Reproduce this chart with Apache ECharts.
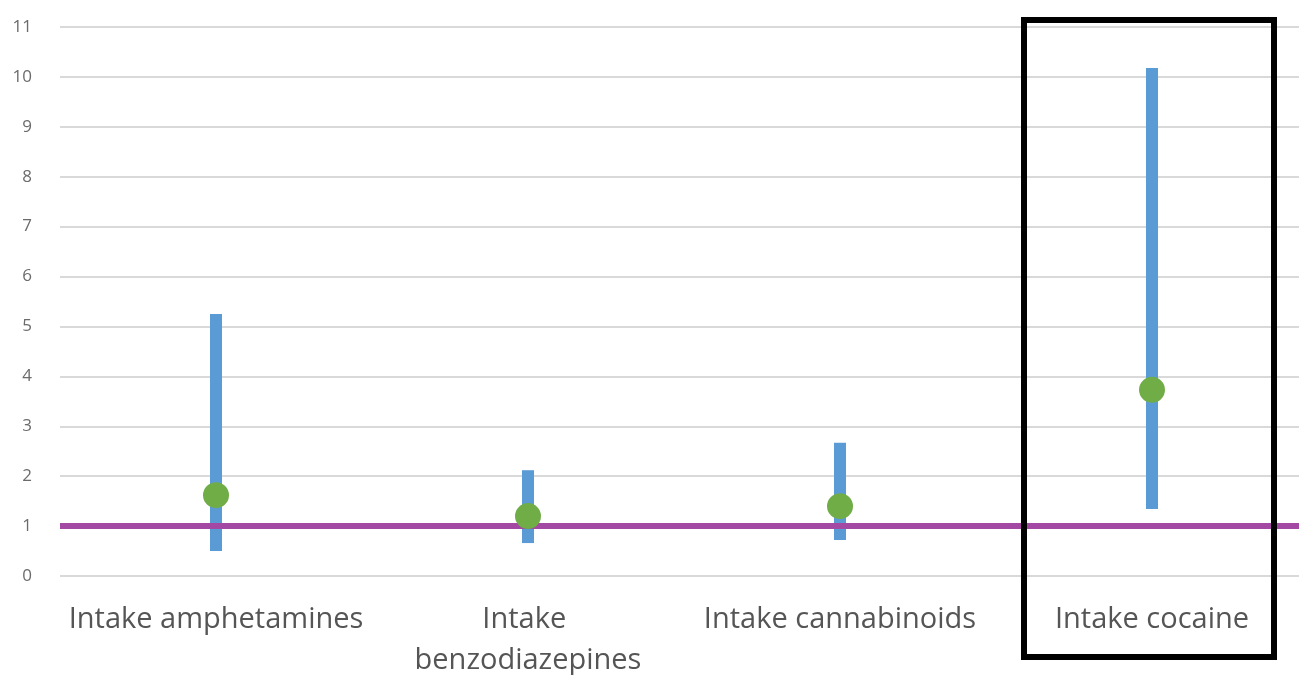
<!DOCTYPE html>
<html>
<head>
<meta charset="utf-8">
<script src="https://cdn.jsdelivr.net/npm/echarts@6/dist/echarts.min.js"></script>
<style>
  html, body { margin: 0; padding: 0; background: #fff; }
  #chart { width: 1299px; height: 675px; }
</style>
</head>
<body>
<div id="chart"></div>
<script>
  var categories = ['Intake amphetamines', 'Intake benzodiazepines', 'Intake cannabinoids', 'Intake cocaine']
  var lowValues = [0.5, 0.66, 0.72, 1.34]
  var highValues = [5.25, 2.12, 2.67, 10.18]
  var pointValues = [1.62, 1.2, 1.4, 3.73]
  var refValue = 1

  var rangeValues = []
  for (var i = 0; i < categories.length; i++) {
    rangeValues.push(+(highValues[i] - lowValues[i]).toFixed(2))
  }

  var chart = echarts.init(document.getElementById('chart'))
  chart.setOption({
    animation: false,
    grid: {
      left: 60,
      width: 1248,
      top: 27,
      height: 549,
      outerBoundsMode: 'none',
      containLabel: false
    },
    xAxis: {
      type: 'category',
      data: categories,
      axisLine: { show: false },
      axisTick: { show: false },
      axisLabel: {
        interval: 0,
        margin: 23,
        fontFamily: 'Open Sans',
        fontSize: 29,
        color: '#555555',
        width: 306,
        overflow: 'break',
        lineHeight: 41
      }
    },
    yAxis: {
      type: 'value',
      min: 0,
      max: 11,
      interval: 1,
      axisLine: { show: false },
      axisTick: { show: false },
      axisLabel: {
        margin: 28,
        fontFamily: 'Open Sans',
        fontSize: 17,
        color: '#6b6b6b'
      },
      splitLine: {
        lineStyle: { color: '#d9d9d9', width: 2 }
      }
    },
    series: [
      {
        type: 'bar',
        stack: 'ci',
        data: lowValues,
        barWidth: 12,
        itemStyle: { color: 'transparent' },
        silent: true
      },
      {
        type: 'bar',
        stack: 'ci',
        data: rangeValues,
        barWidth: 12,
        itemStyle: { color: '#5B9BD5' },
        markLine: {
          symbol: 'none',
          silent: true,
          label: { show: false },
          lineStyle: { color: '#A349A4', width: 6, type: 'solid' },
          data: [{ yAxis: refValue }]
        }
      },
      {
        type: 'scatter',
        data: pointValues,
        symbol: 'circle',
        symbolSize: 26,
        itemStyle: { color: '#70AD47', opacity: 1 },
        z: 5
      }
    ],
    graphic: [
      {
        type: 'rect',
        shape: { x: 1024, y: 20, width: 250, height: 637 },
        style: { fill: 'none', stroke: '#000', lineWidth: 6 },
        z: 10
      }
    ]
  })
</script>
</body>
</html>
